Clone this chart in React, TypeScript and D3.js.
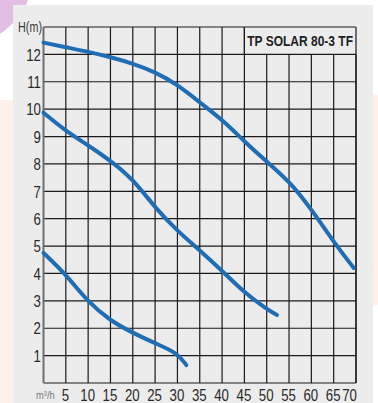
import * as d3 from 'd3'
import type { ReactNode } from 'react'

const xTicks = [5, 10, 15, 20, 25, 30, 35, 40, 45, 50, 55, 60, 65, 70]
const yTicks = [1, 2, 3, 4, 5, 6, 7, 8, 9, 10, 11, 12]

// Q (m3/h) , H (m)
const curveTop: [number, number][] = [
  [0, 12.43], [5, 12.26], [10, 12.1], [15, 11.9], [20, 11.67], [25, 11.36],
  [30, 10.9], [35, 10.25], [40, 9.62], [45, 8.82], [50, 8.08], [55, 7.38],
  [60, 6.35], [65, 5.15], [69.5, 4.2],
]
const curveMid: [number, number][] = [
  [0, 9.87], [5, 9.2], [10, 8.68], [15, 8.12], [20, 7.45], [25, 6.4],
  [30, 5.55], [35, 4.85], [40, 4.1], [45, 3.3], [50, 2.7], [52.3, 2.48],
]
const curveLow: [number, number][] = [
  [0, 4.75], [5, 3.97], [10, 2.95], [15, 2.27], [20, 1.83], [25, 1.45],
  [30, 1.1], [32, 0.65],
]

const title = 'TP SOLAR 80-3 TF'
const font = "'Liberation Sans', Arial, sans-serif"

// the original uses a condensed face, so squeeze a normal one
function Narrow({ x, y, anchor = 'start', squeeze = 0.78, children, ...rest }: {
  x: number
  y: number
  anchor?: 'start' | 'middle' | 'end'
  squeeze?: number
  children: ReactNode
  [k: string]: any
}) {
  return (
    <text transform={`translate(${x},${y}) scale(${squeeze},1)`} textAnchor={anchor} {...rest}>
      {children}
    </text>
  )
}

export default function App() {
  const width = 378
  const height = 403
  const left = 43.5
  const right = 356
  const top = 27
  const bottom = 383

  const x = d3.scaleLinear([0, 70], [left, right])
  const y = d3.scaleLinear([0, 13], [bottom, top])
  const line = d3
    .line<[number, number]>((d) => x(d[0]), (d) => y(d[1]))
    .curve(d3.curveBasis)

  // title box occupies the top row from 45 to 70
  const boxX = x(45)

  return (
    <svg
      width={width}
      height={height}
      style={{ position: 'absolute', left: 0, top: 0 }}
    >
      <rect width={width} height={height} fill="#ffffff" />
      <rect x={0} y={100} width={13} height={303} fill="#fdf1ea" />
      <rect x={373} y={95} width={5} height={210} fill="#fdf1ea" />
      <path d="M0,0 L28,0 Q22,12 26,30 L14,22 Q6,30 0,34 Z" fill="#dcaedc" opacity={0.8} />
      <rect x={13} y={5} width={360} height={398} fill="#ececec" />

      <g stroke="#1a1a1a" strokeWidth={1.2}>
        {yTicks.map((t) => (
          <line key={t} x1={left} x2={right} y1={y(t)} y2={y(t)} />
        ))}
        {xTicks.map((t) => (
          <line key={t} x1={x(t)} x2={x(t)} y1={bottom} y2={x(t) > boxX + 1 ? y(12) : top} />
        ))}
        <line x1={boxX} x2={boxX} y1={top} y2={y(12)} />
        <line x1={left} x2={right} y1={top} y2={top} />
        <line x1={right} x2={right} y1={top} y2={bottom} />
        <line x1={left} x2={right} y1={bottom} y2={bottom} />
      </g>
      <line x1={left} x2={left} y1={top} y2={bottom} stroke="#6e6e6e" strokeWidth={2} />

      <g fill="none" stroke="#1f6db4" strokeWidth={4} strokeLinecap="round">
        <path d={line(curveTop) || undefined} />
        <path d={line(curveMid) || undefined} />
        <path d={line(curveLow) || undefined} />
      </g>

      <g fontFamily={font} fill="#2a2a2a" fontSize={17}>
        {yTicks.map((t) => (
          <Narrow key={t} x={41} y={y(t) + 6.2} anchor="end">
            {t}
          </Narrow>
        ))}
        {xTicks.map((t, i) => (
          <Narrow
            key={t}
            x={i === xTicks.length - 1 ? x(t) + 1 : x(t) - 0.5}
            y={401}
            anchor={i === xTicks.length - 1 ? 'end' : 'middle'}
          >
            {t}
          </Narrow>
        ))}
        <Narrow x={42} y={32} anchor="end" fontSize={15} fill="#3a3a3a" squeeze={0.72}>
          H(m)
        </Narrow>
        <Narrow x={353} y={46} anchor="end" fontSize={15} fontWeight="bold" fill="#222" squeeze={0.8}>
          {title}
        </Narrow>
        <Narrow x={36} y={399} fontSize={11} fill="#777" squeeze={0.85}>
          m³/h
        </Narrow>
      </g>
    </svg>
  )
}
